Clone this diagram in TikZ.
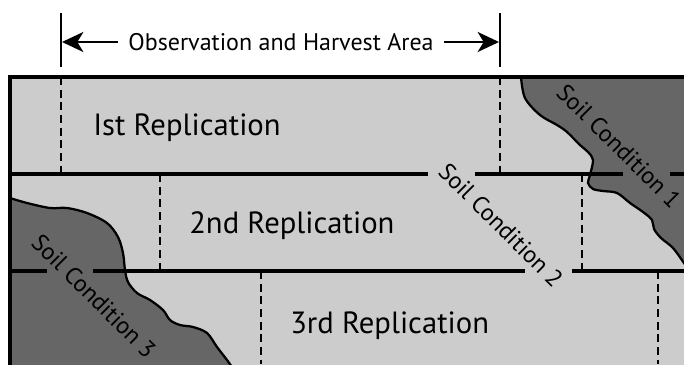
\documentclass[tikz,border=0pt]{standalone}
\usepackage{fontspec}
\setmainfont{PT Sans}
\usetikzlibrary{arrows.meta}
\definecolor{fieldgray}{RGB}{204,204,204}
\definecolor{soilgray}{RGB}{102,102,102}

\begin{document}
\begin{tikzpicture}[
    x=0.75pt, y=-0.75pt,
    field/.style={fill=fieldgray},
    soil/.style={fill=soilgray, draw, line width=1.7pt},
    border/.style={draw, line width=2.4pt},
    rowline/.style={line width=2.4pt},
    plotdash/.style={line width=1.7pt, dash pattern=on 6pt off 3.5pt},
    tick/.style={line width=1.7pt},
    dimarr/.style={line width=1.8pt, -{Stealth[length=16pt, width=15pt, inset=4.5pt]}},
    replab/.style={anchor=base west, inner sep=0pt, font=\fontsize{23}{27}\selectfont},
    soillab/.style={rotate=-45, inner sep=0pt, font=\fontsize{18}{21}\selectfont},
    arealab/.style={inner xsep=7.5pt, font=\fontsize{18}{21}\selectfont}
  ]
  \clip (0,0) rectangle (684,364);

  % field and soil patches
  \fill[field] (10,77) rectangle (700,380);
  \filldraw[soil] plot[smooth, tension=0.55] coordinates {(521,77) (525,98) (540,115) (557,125)
      (567,132) (580,145) (588,152) (593,160) (590,175) (588,183) (593,189) (603,191) (617,193)
      (630,203) (643,212) (652,220) (654,229) (661,238) (673,248) (684,263) (692,274)}
    -- (700,274) -- (700,77) -- cycle;
  \filldraw[soil] plot[smooth, tension=0.55] coordinates {(10,198) (27,203) (50,208) (67,208)
      (87,213) (107,223) (118,237) (123,253) (125,270) (128,282) (137,293) (150,300) (163,310)
      (170,320) (180,325) (193,327) (207,333) (217,347) (227,360) (234,370)}
    -- (10,370) -- cycle;
  \path[border] (10,77) rectangle (700,380);

  % replication rows
  \draw[rowline] (10,174) -- (428,174) (475,174) -- (623,174) (670,174) -- (684,174);
  \draw[rowline] (10,271) -- (47,271) (93,271) -- (525,271) (572,271) -- (684,271);

  % harvest plots
  \foreach \xa/\ya/\yb in {61/77/174, 500/77/174, 160/174/271, 582/174/271, 261/271/364, 658/271/364}
    \draw[plotdash] (\xa,\ya) -- (\xa,\yb);

  % observation area
  \coordinate (tickLa) at (61,13);
  \coordinate (tickLb) at (61,67);
  \coordinate (tickRa) at (500,13);
  \coordinate (tickRb) at (500,67);
  \draw[tick] (tickLa) -- (tickLb);
  \draw[tick] (tickRa) -- (tickRb);
  \node[arealab] (area) at (281,42) {Observation and Harvest Area};
  \coordinate (arrL) at (62,42);
  \coordinate (arrR) at (499,42);
  \draw[dimarr] (area) -- (arrL);
  \draw[dimarr] (area) -- (arrR);

  \node[replab] (rep1) at (93,135) {Ist Replication};
  \node[replab] (rep2) at (189,233) {2nd Replication};
  \node[replab] (rep3) at (290,333) {3rd Replication};

  \node[soillab] (soil1) at (619,146) {Soil Condition 1};
  \node[soillab] (soil2) at (501,225) {Soil Condition 2};
  \node[soillab] (soil3) at (94,296) {Soil Condition 3};
\end{tikzpicture}
\end{document}
